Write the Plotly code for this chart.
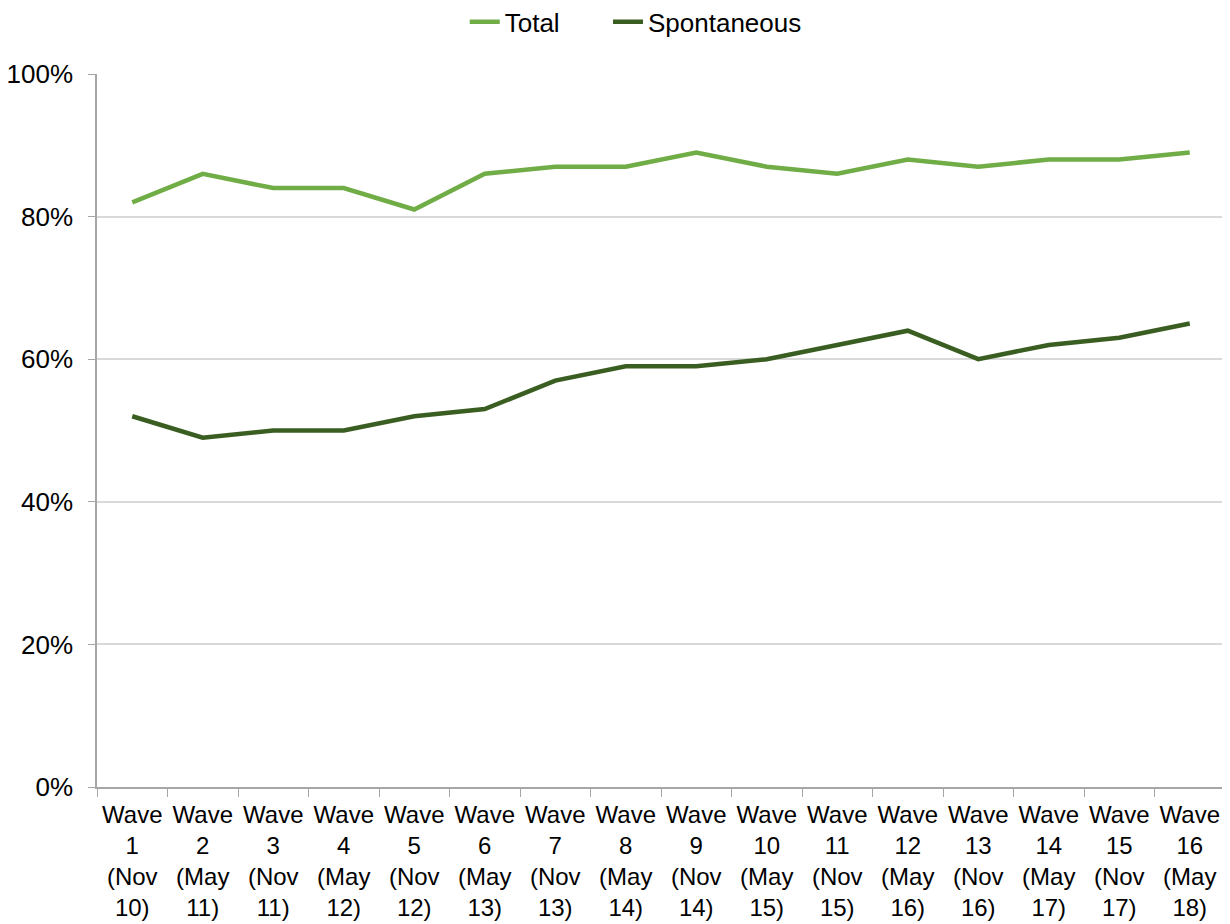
import plotly.graph_objects as go

# ==========================================
# DATA
# ==========================================

waves = ["1", "2", "3", "4", "5", "6", "7", "8",
         "9", "10", "11", "12", "13", "14", "15", "16"]
periods = ["Nov 10", "May 11", "Nov 11", "May 12", "Nov 12", "May 13", "Nov 13", "May 14",
           "Nov 14", "May 15", "Nov 15", "May 16", "Nov 16", "May 17", "Nov 17", "May 18"]

total = [82, 86, 84, 84, 81, 86, 87, 87, 89, 87, 86, 88, 87, 88, 88, 89]
spontaneous = [52, 49, 50, 50, 52, 53, 57, 59, 59, 60, 62, 64, 60, 62, 63, 65]

categories = [f"Wave<br>{w}<br>({p.split()[0]}<br>{p.split()[1]})" for w, p in zip(waves, periods)]

# ==========================================
# LINE CHART
# ==========================================

fig = go.Figure()

fig.add_trace(go.Scatter(
    x=categories,
    y=[v / 100 for v in total],
    mode="lines",
    name="Total" + "\u00a0" * 6,
    line=dict(color="#70ad47", width=4.5)
))

fig.add_trace(go.Scatter(
    x=categories,
    y=[v / 100 for v in spontaneous],
    mode="lines",
    name="Spontaneous",
    line=dict(color="#3a5e22", width=4.5)
))

fig.update_layout(
    width=1230,
    height=924,
    margin=dict(l=89, r=13, t=66, b=145, autoexpand=False),
    plot_bgcolor="white",
    paper_bgcolor="white",
    font=dict(family="Liberation Sans, Arial, sans-serif", size=24, color="#000000"),
    legend=dict(
        orientation="h",
        x=0.326,
        xanchor="left",
        y=1.073,
        yanchor="middle",
        font=dict(size=26),
    ),
    showlegend=True,
)

fig.update_xaxes(
    type="category",
    range=[-0.5, 15.5],
    tickangle=0,
    showgrid=False,
    showline=True,
    linecolor="#a6a6a6",
    linewidth=1.5,
    ticks="outside",
    tickson="boundaries",
    ticklen=8,
    tickcolor="#a6a6a6",
    ticklabelstandoff=5,
    tickfont=dict(size=24),
)

fig.update_yaxes(
    range=[0, 1],
    tickvals=[0, 0.2, 0.4, 0.6, 0.8, 1.0],
    tickformat=".0%",
    showgrid=True,
    gridcolor="#d9d9d9",
    gridwidth=1.5,
    showline=True,
    linecolor="#a6a6a6",
    linewidth=1.5,
    ticks="outside",
    ticklen=7,
    tickcolor="#a6a6a6",
    ticklabelstandoff=10,
    zeroline=False,
    tickfont=dict(size=26),
)

fig.write_html("out.html")
